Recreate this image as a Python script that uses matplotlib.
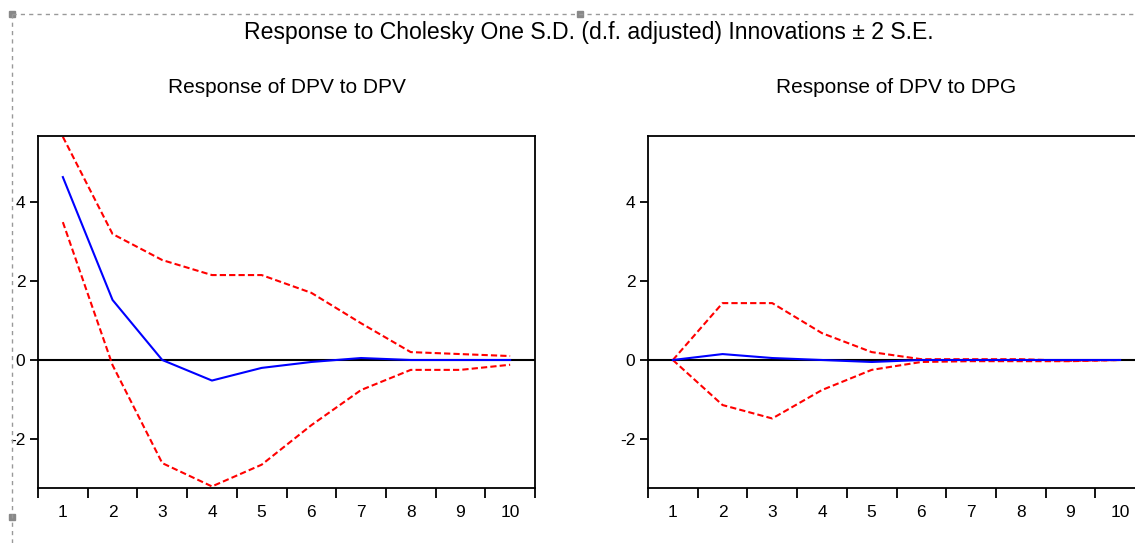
import matplotlib
matplotlib.use("Agg")
import matplotlib.pyplot as plt
from matplotlib.lines import Line2D
from matplotlib.patches import Rectangle

plt.rcParams['font.family'] = ['Liberation Sans Narrow', 'Liberation Sans', 'DejaVu Sans']
plt.rcParams['axes.unicode_minus'] = False

periods = [1, 2, 3, 4, 5, 6, 7, 8, 9, 10]

# Response of DPV to DPV
dpv_resp = [4.63, 1.52, 0.0, -0.52, -0.2, -0.05, 0.05, 0.0, 0.0, 0.0]
dpv_upper = [5.65, 3.19, 2.53, 2.15, 2.15, 1.7, 0.93, 0.2, 0.15, 0.1]
dpv_lower = [3.49, -0.13, -2.61, -3.2, -2.65, -1.65, -0.76, -0.25, -0.25, -0.12]

# Response of DPV to DPG
dpg_resp = [0.0, 0.15, 0.05, 0.0, -0.05, 0.0, 0.0, 0.0, 0.0, 0.0]
dpg_upper = [0.0, 1.44, 1.44, 0.68, 0.2, 0.02, 0.02, 0.02, -0.02, 0.0]
dpg_lower = [0.0, -1.14, -1.48, -0.76, -0.25, -0.05, -0.03, -0.03, -0.03, 0.0]

yticks = [-2, 0, 2, 4]
title = "Response to Cholesky One S.D. (d.f. adjusted) Innovations \u00b1 2 S.E."
subtitles = ["Response of DPV to DPV", "Response of DPV to DPG"]

W, H = 1135, 543
fig = plt.figure(figsize=(W / 100, H / 100), dpi=100)


def px_axes(x0, x1, y0, y1):
    return fig.add_axes([x0 / W, 1 - y1 / H, (x1 - x0) / W, (y1 - y0) / H])


axes = [px_axes(38, 535, 136, 488), px_axes(648, 1145, 136, 488)]
panels = [(dpv_resp, dpv_upper, dpv_lower), (dpg_resp, dpg_upper, dpg_lower)]

for ax, (resp, up, lo), sub in zip(axes, panels, subtitles):
    ax.axhline(0, color='black', lw=1.5, zorder=1)
    ax.plot(periods, up, color='red', lw=1.5, ls=(0, (3, 1.5)), zorder=2)
    ax.plot(periods, lo, color='red', lw=1.5, ls=(0, (3, 1.5)), zorder=2)
    ax.plot(periods, resp, color='blue', lw=1.5, zorder=3)
    ax.set_xlim(0.5, 10.5)
    ax.set_ylim(-3.24, 5.67)
    ax.set_xticks(periods)
    ax.set_xticklabels([str(p) for p in periods])
    ax.set_xticks([p + 0.5 for p in range(0, 11)], minor=True)
    ax.tick_params(axis='x', which='major', length=0, pad=12, labelsize=12.5)
    ax.tick_params(axis='x', which='minor', length=7, width=1.3, direction='out')
    ax.set_yticks(yticks)
    ax.set_yticklabels([str(v) for v in yticks])
    ax.tick_params(axis='y', length=6, width=1.3, direction='out', pad=3, labelsize=12.5)
    for s in ax.spines.values():
        s.set_linewidth(1.3)
    ax.set_title(sub, fontsize=15, pad=31)

fig.text(589 / W, 1 - 32 / H, title, ha='center', va='center', fontsize=16.6)

# dashed selection frame
fy = 1 - 14 / H
fx = 12 / W
fig.add_artist(Line2D([fx, 1], [fy, fy], transform=fig.transFigure,
                      color='#999999', lw=1, ls=(0, (3, 3))))
fig.add_artist(Line2D([fx, fx], [0, fy], transform=fig.transFigure,
                      color='#999999', lw=1, ls=(0, (3, 3))))
for hx, hy in [(12, 14), (580, 14), (12, 517)]:
    fig.add_artist(Rectangle(((hx - 3) / W, 1 - (hy + 3) / H), 6 / W, 6 / H,
                             transform=fig.transFigure, color='#888888'))

fig.savefig("out.png", dpi=100)
